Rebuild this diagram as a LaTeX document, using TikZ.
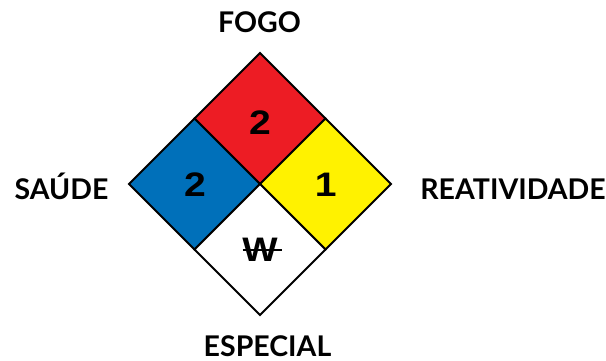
\documentclass[tikz,border=0pt]{standalone}
\usepackage{fontspec}
\setmainfont{Lato}
\newfontfamily\numfont{Liberation Sans}
\definecolor{nfpared}{HTML}{ED1C24}
\definecolor{nfpablue}{HTML}{0070BA}
\definecolor{nfpayellow}{HTML}{FFF200}
\begin{document}
\begin{tikzpicture}[x=1pt,y=-1pt,
  cell/.style={draw=black,line width=2pt,line join=miter},
  lbl/.style={font=\fontsize{28.5}{30}\selectfont\bfseries,inner sep=0pt,anchor=base},
  num/.style={font=\fontsize{34}{36}\selectfont\numfont\bfseries,inner sep=0pt}]
\useasboundingbox (0,0) rectangle (606,360);
\fill[white] (0,0) rectangle (606,360);
% cells
\path[cell,fill=nfpared]    (260,53) -- (325.5,118.5) -- (260,184) -- (194.5,118.5) -- cycle;
\path[cell,fill=nfpablue]   (194.5,118.5) -- (260,184) -- (194.5,249.5) -- (129,184) -- cycle;
\path[cell,fill=nfpayellow] (325.5,118.5) -- (391,184) -- (325.5,249.5) -- (260,184) -- cycle;
\path[cell,fill=white]      (260,184) -- (325.5,249.5) -- (260,315) -- (194.5,249.5) -- cycle;
% numbers
\node[num] (fire) at (260,123) {\scalebox{1.15}[1]{2}};
\node[num] (health) at (195,185) {\scalebox{1.15}[1]{2}};
\node[num] (react) at (325.7,185) {\scalebox{1.15}[1]{1}};
\node[num] (special) at (260,250) {\scalebox{1.1}[1]{W}};
\draw[line width=1.6pt] (242.7,250) -- (282.3,250);
% labels
\node[lbl] (fogo) at (259.5,32) {FOGO};
\node[lbl] (saude) at (61.5,199.5) {SAÚDE};
\node[lbl] (reat) at (513,199.5) {REATIVIDADE};
\node[lbl] (esp) at (267.5,356.5) {ESPECIAL};
\end{tikzpicture}
\end{document}
